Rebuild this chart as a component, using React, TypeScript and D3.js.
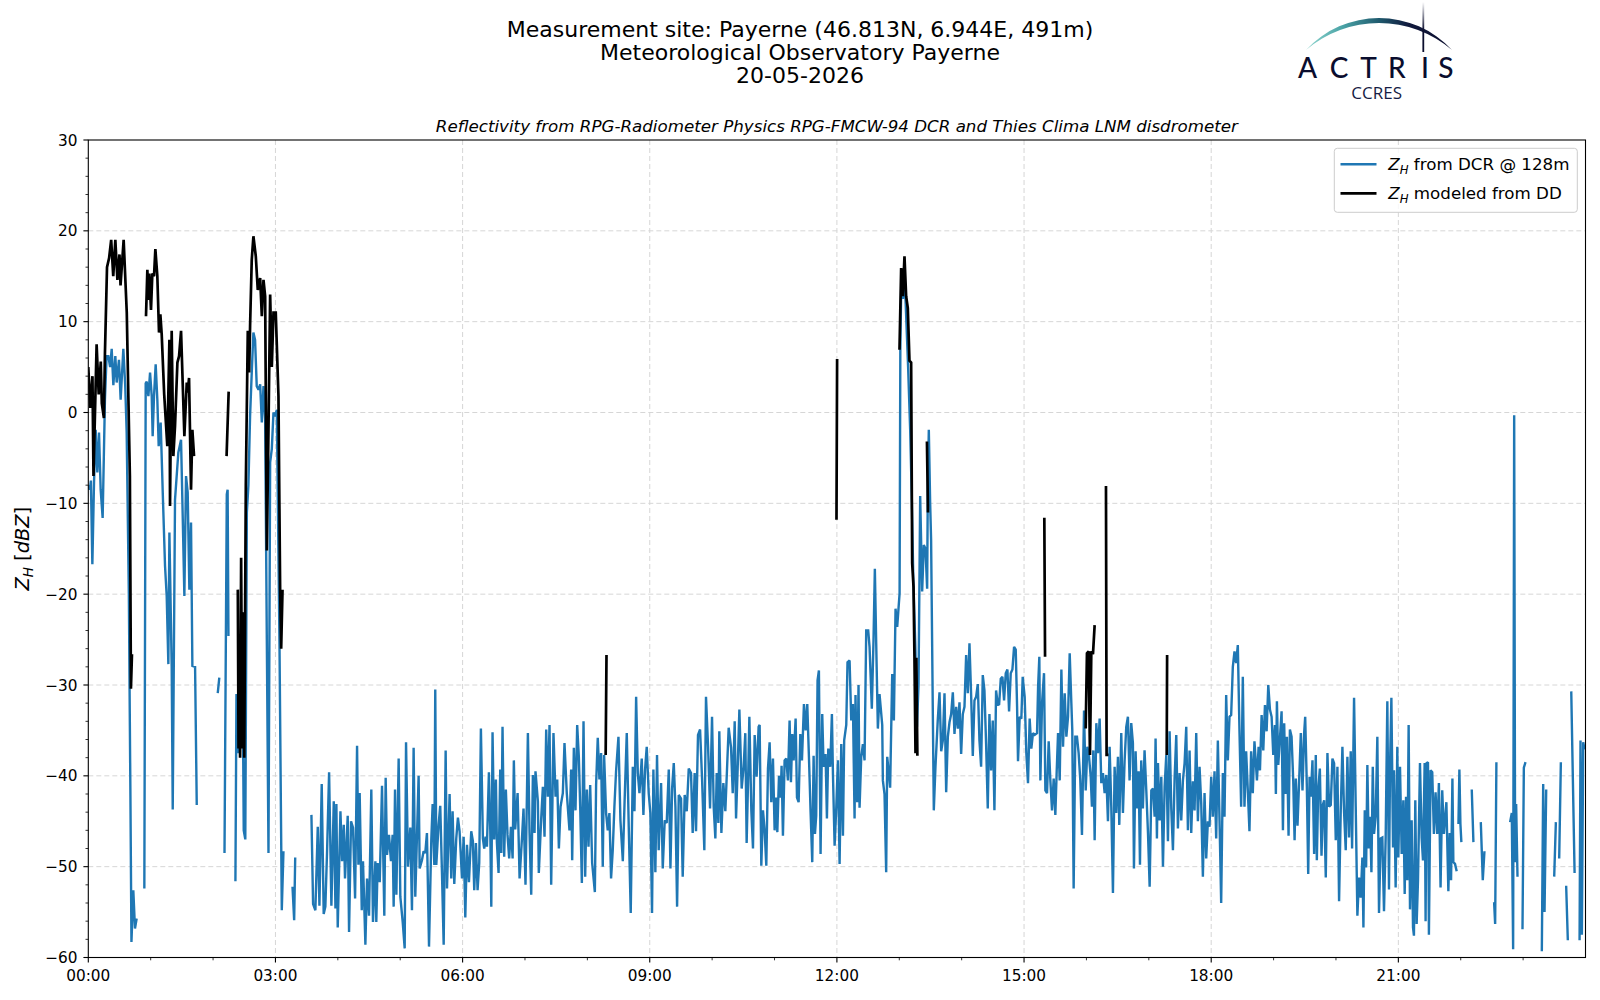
import React from "react";
import * as d3 from "d3";

type Pt = [number, number | null];

// ---------- axis / tick data ----------
const xMajorMinutes = [0, 180, 360, 540, 720, 900, 1080, 1260];
const xTickLabels = ["00:00", "03:00", "06:00", "09:00", "12:00", "15:00", "18:00", "21:00"];
const yMajorTicks = [-60, -50, -40, -30, -20, -10, 0, 10, 20, 30];

const titleLines = [
  "Measurement site: Payerne (46.813N, 6.944E, 491m)",
  "Meteorological Observatory Payerne",
  "20-05-2026",
];
const subTitle = "Reflectivity from RPG-Radiometer Physics RPG-FMCW-94 DCR and Thies Clima LNM disdrometer";
const legendLabels = [" from DCR @ 128m", " modeled from DD"];

// ---------- Z_H from DCR (minutes since 00:00, dBZ) ----------
const dcrEarlyRain: Pt[] = [
  [0, -8], [1.5, -8.5], [2.5, -7.5], [3.9, -16.7], [5.5, -7.7], [7.1, -1.9], [8.7, -6.6], [10.3, -2.2], [11.9, -8.5], [13.8, -11.6],
  [16, 1.4], [17.6, 6.2], [19.3, 6.2], [21, 5], [22.5, 7], [24.1, 3], [26, 6.2], [27.3, 3.3], [29.5, 5.8], [31.1, 1.4], [33.7, 7],
  [35.5, 3], [36.9, -2.2], [39, -20], [40.5, -42], [41.5, -58.3], [43.3, -52.6], [44.9, -56.8], [46.5, -55.7], [50, null],
  [53.9, -52.4], [55.2, 3.2], [56.2, 3.4], [57.8, 1.8], [59.4, 4.4], [61, 1.8], [61.9, -2.6], [63.2, 1.8], [64.8, 5.3], [66.4, 1.4],
  [67.7, -3.7], [69.6, -1.1], [71.6, -8.8], [73.8, -16.9], [75.4, -20.2], [77, -27.7], [78, -13.2], [80.2, -27.9], [81.2, -43.7],
  [83.4, -9.6], [86.6, -4.4], [89.2, -3], [90.8, -11.4], [92.4, -20.2], [94, -7], [95.6, -8.8], [97.2, -19.5], [98.8, -12.1],
  [100.1, -27.9], [102.7, -28], [104.3, -43.2], [110, null],
  [124.5, -30.9], [126, -29.2], [128, null],
  [131, -48.5], [133.2, -9], [134, -8.5], [134.8, -24.6], [138, null],
  [141.5, -51.6], [142.5, -31], [144, -37.5], [146, -35], [148, -22], [149.5, -46], [151, -47], [152.5, -11], [154, -8],
  [155.6, -0.4], [157.2, 4.4], [158.8, 8.8], [160.4, 8], [162, 2.9], [163.7, 2.5], [165.3, 3.1], [166.9, -1.1], [168.5, 2.9],
  [170.1, -0.8], [171.7, -25], [173.3, -48.5], [174.9, -5.5], [176.5, -4], [178.1, 0], [179.7, -0.4], [181.3, 0.3],
  [183.9, -25.7], [186.1, -54.8], [187.7, -48.3], [190, null],
  [196.4, -52.2], [198, -55.9], [199, -49], [205, null],
];

const dcrMorning: Pt[] = [
  [214.6, -44.3], [216.2, -54.1], [218.4, -54.8], [220.7, -45.6], [222.3, -54.3], [224.5, -40.9], [226.4, -55.2], [228, -54.4],
  [229.6, -48.5], [231.6, -39.6], [233.8, -54.3], [236.1, -42.8], [237.7, -54.6], [238.6, -43.1], [239.9, -56.7], [242.5, -43.9],
  [244.1, -49.4], [245.7, -45.4], [246.9, -51.3], [249.5, -44.4], [250.8, -57.2], [252.7, -45], [254.6, -45.7], [256.6, -53.5],
  [258.5, -36.7], [259.8, -49.8], [261, -41.9], [263, -54.8], [264.2, -49.4], [266.5, -58.6], [268.1, -51.3], [270, -55.4],
  [272.2, -41.5], [273.8, -56.1], [276.1, -49.4], [277, -56.1], [278.3, -49.6], [280.3, -51.7], [282.5, -41.1], [284.7, -55.4],
  [286, -40.2], [287.3, -48.7], [289.2, -46.5], [291.1, -49.4], [292.7, -46.5], [293.7, -54.4], [295, -41.5], [296.3, -53.1],
  [298.5, -38.1], [300.1, -53.3], [302.4, -56.1], [304.3, -59], [305.6, -36.3], [307.5, -50], [309.7, -45.7], [311.3, -54.8],
  [312.9, -36.9], [314.5, -53.3], [316.1, -46.7], [317.7, -40], [318.7, -50.2], [320.9, -49.3], [322.5, -48.3], [324.1, -48.5],
  [325.7, -46.3], [327.7, -58.8], [329.9, -47], [331.2, -43.1], [332.8, -49.8], [333.7, -30.5], [334.7, -49.8], [336.9, -45.4],
  [338.5, -43.3], [340.2, -50.9], [341.8, -58.6], [343.7, -37.2], [345, -52.4], [347.5, -42], [349.1, -51.3], [350.4, -43.9],
  [352, -51.9], [353.9, -46.9], [355.5, -44.6], [357.1, -46.1], [359.4, -51.3], [361, -46.7], [362.6, -55.6], [364.2, -47.6],
  [366.1, -51.7], [368.3, -46.1], [369.9, -47.2], [371.2, -52.6], [372.8, -47.4], [374.4, -52.6], [376, -49.6], [377.6, -34.8],
  [379.5, -46.9], [380.8, -48], [382.1, -46.7], [383.4, -47.8], [385.3, -39.6], [386.6, -45.9], [387.6, -54.4], [388.8, -35.2],
  [390.4, -47], [392, -40.4], [393, -47.4], [394.6, -50.7], [396.2, -39.3], [397.2, -48.5], [398.4, -34.6], [400, -48.9],
  [401.6, -41.5], [403.2, -46.5], [404.8, -49.1], [406.5, -45.6], [408.1, -49.1], [409.3, -38.3], [410.6, -45.9], [412.9, -41.9],
  [414.8, -51.3],
  [417.3, -46.5], [418.6, -43.6], [420.5, -52], [422.8, -35.3], [424.4, -46.3], [426, -53.1], [427.6, -39.9], [429.2, -46.3],
  [430.1, -39.5], [432.4, -42.8], [433.3, -50.7], [435.6, -44.7], [437.2, -41.2], [438.8, -46.7], [440.4, -34.9], [442, -42.3],
  [443.6, -34.4], [445.2, -52], [447.4, -35.3], [449.4, -42.3], [451, -40.4], [452.6, -48], [454.2, -43.4], [456.4, -41.9],
  [458, -36.4], [460.2, -41.9], [462.8, -46], [464.4, -39.3], [465.4, -49.3], [467, -36.9], [468.6, -43.8], [470.2, -34.4],
  [471.8, -37.9], [473.1, -43.4], [474.7, -51.8], [476.3, -34], [477.9, -51.1], [479.5, -41.5], [481.1, -47.8], [482.7, -41],
  [484.6, -49.6], [487.2, -52.8], [488.4, -41], [490, -35.8], [491.6, -40.4], [493.2, -37.5], [494.8, -50], [496.1, -37.7],
  [498, -44.1], [499.6, -46], [501.2, -44.1], [502.8, -51.3], [504.4, -48.2], [506, -43.4], [507.6, -39.5], [509.9, -35.7],
  [511.8, -44.9], [514.1, -49.4], [515.7, -43.2], [517.9, -35.3], [519.8, -45.6], [521.7, -55.1], [523.7, -39], [525.3, -43.9],
  [526.9, -31.3], [528.5, -39.7], [530.1, -41.9], [532.3, -38.1], [533.9, -44.3], [535.5, -39.3], [537.1, -36.8], [539, -41.9],
];

const dcrLateMorning: Pt[] = [
  [540.6, -44.1], [542.2, -55.1], [543.5, -39.3], [545.4, -50.6], [547, -37.7], [548.6, -48.2], [550.9, -40.8], [552.5, -50.2],
  [554.4, -44.9], [556.3, -45.2], [558.3, -39.3], [559.9, -50.2], [561.5, -41.4], [563.1, -38.6], [564.7, -43.4], [566.3, -54.4],
  [567.9, -42.1], [570.1, -42.5], [571.7, -51.1], [573.6, -42.1], [575.6, -43.9], [577.5, -39.2], [579.7, -39.7], [581.3, -46.3],
  [583.2, -39.7], [584.5, -46.1], [586.4, -35.5], [588.4, -34.9], [590.3, -40.3], [592.5, -48.2], [594.1, -31.3], [596.1, -36.8],
  [598, -43.6], [599.9, -33.5], [601.5, -43.4], [603.1, -46.9], [604.4, -39.7], [606, -45.2], [606.9, -35.1], [608.9, -46.3],
  [610.8, -40.8], [612.7, -43.9], [614.3, -39.3], [615.9, -34.7], [618.2, -36.9], [619.8, -41.9], [621.7, -34], [623, -44.7],
  [624.6, -39], [626.2, -32.7], [628.4, -41.4], [630.3, -39], [631.9, -35.3], [633.2, -47.4], [634.8, -39.3], [635.8, -33.5],
  [637.7, -43.8], [639.3, -48], [640.9, -35.5], [642.8, -40.1], [644.7, -34.6],
  [645.7, -34.4], [647.3, -49.9], [648.9, -43.8], [650.5, -46], [652.1, -49.9], [653.7, -39.2], [655.3, -36.3], [656.9, -42.9],
  [658.5, -38.1], [660.1, -46], [661.7, -42.4], [662.7, -46.2], [664.3, -40], [665.9, -42.4], [666.8, -38.9], [668.1, -46.6],
  [669.7, -38.3], [671.3, -38.1], [672.9, -40.5], [674.5, -33.9], [675.8, -40.7], [677.1, -35.4], [678.4, -38.3], [680.3, -33.7],
  [681.6, -42.4], [683.2, -42.9], [684.8, -35.4], [686.4, -38.3], [688.3, -32.1], [689.9, -35], [691.5, -32.1], [693.1, -37.9],
  [694.7, -44], [696.3, -49.5], [697.6, -37.8], [698.9, -46.4], [700.1, -44.4], [701.4, -29.5], [702.7, -28.4], [704.3, -48.6],
  [705.9, -33.2], [707.2, -39], [709.1, -37.6], [710.4, -44.7], [711.7, -37], [713.6, -39], [715.2, -33.2], [716.2, -39.8],
  [717.8, -47.7], [719.4, -43.5],
];

const dcrMidday: Pt[] = [
  [721, -38.3], [722.6, -49.7], [724.2, -36.5], [725.8, -46.6], [727, -36.1], [729, -34.4], [730.2, -27.5], [732.2, -27.3],
  [733.8, -33.9], [735.4, -32.1], [737, -44.7], [737.9, -31.1], [739.5, -42.9], [740.8, -30], [741.8, -43.5], [743.4, -37.9],
  [745, -36.5], [746.6, -38.3], [748.2, -24], [750.1, -24], [751.4, -25.8], [753.6, -32.6], [755.2, -25.1], [756.5, -17.2],
  [757.8, -25.4], [759.4, -34.8], [761, -31], [763.6, -34.4], [764.2, -40.5], [765.8, -42], [767.4, -50.6], [768.4, -37.9],
  [770, -39.8], [771.2, -41.3], [773.2, -28.8], [774.8, -33.9], [776.4, -21.6], [778, -23.6], [779.3, -21.5], [780.3, -19.9],
  [781, 6.8], [782, 15], [783.5, 12.5], [785, 15.5], [786.5, 11], [788.5, 5], [790.5, -2], [792, -9.2], [793.5, -18.4],
  [795.5, -26], [797, -34.6], [798.5, -30], [800.1, -9.2], [802, -19.7], [803.6, -14.6], [805.2, -15], [806.8, -19.4],
  [807.4, -8.9], [808.4, -1.9], [809.7, -10], [810.6, -14], [813.2, -43.8], [814.8, -39], [817, -33.9], [818.7, -30.8],
  [820.3, -37.3], [821.9, -36.1], [823.5, -30.9], [825.1, -41.8], [826.7, -35.7], [828.3, -34.1], [829.9, -33.2], [831.5, -30.8],
  [833.1, -35.4], [834.7, -32.4], [836.3, -34.8], [837.9, -31.9], [839.5, -37.6], [841.1, -33.2], [842.7, -32.4], [844.3, -26.7],
  [845.9, -30.9], [847.5, -25.4], [849.1, -31.1], [850.7, -37.8], [852.3, -31.7], [853.9, -31.3], [855.5, -29.9], [857.1, -36.1],
  [858.7, -39], [860.3, -28.9], [861.9, -30.6], [863.5, -36.5], [865.1, -43.6], [866.7, -33.2], [868.3, -39.4], [869.9, -33.9],
  [871.5, -43.8], [873.1, -30.6], [874.7, -32.1],
];

const dcrAfternoon: Pt[] = [
  [876, -32.2], [877.6, -29.3], [879.2, -29.1], [880.8, -31.7], [882.4, -28.7], [884, -28.3], [885.6, -32.9], [887.2, -28.7],
  [888.8, -28.3], [890.4, -25.8], [892, -26.1], [893.3, -32.4], [894.2, -38.4], [895.8, -33.5], [897.4, -33.7], [898.7, -29.1],
  [900.6, -31.3], [902.2, -37.5], [903.8, -40.8], [905.4, -33.7], [907, -37], [908.6, -35.3], [910.2, -35.5], [912.5, -35.3],
  [913.5, -30.2], [914.7, -26.9], [915.7, -40.5], [917.3, -32], [919.2, -28.7], [920.5, -41.6], [922.1, -41.9], [923.7, -36.2],
  [925.3, -40.5], [926.9, -43.8], [928.5, -40.3], [930.1, -44.3], [931.4, -39.5], [932.7, -35.3], [934.3, -40.5], [935.9, -28.3],
  [937.5, -36.8], [939.1, -30.9], [940.7, -35.7], [942.3, -33.5], [943.9, -26.5], [945.5, -32], [946.4, -35], [947.7, -52.4],
  [949.3, -35.7], [950.9, -35.7], [952.5, -37.5], [954.1, -40.5], [955.7, -46.5], [957.7, -32.8], [959.3, -41.6], [960.9, -36.8],
  [962.5, -37.9], [964.1, -40.1], [965.3, -43.4], [966.6, -37.2], [967.9, -47.1], [969.5, -34.2], [971.1, -37.5], [972.7, -33.7],
  [974.3, -40.8], [975.9, -39.7], [977.5, -41.9], [979.1, -39.9], [980.7, -45], [982.3, -36.8], [983.9, -43.4], [985.5, -52.9],
  [987.1, -39], [988.7, -44.1], [990.3, -37.9], [991.6, -45.4], [993.5, -35.3], [995.1, -44.1], [996.7, -38.4], [998.3, -34.6],
  [999.9, -33.5], [1001.5, -40.5], [1003.1, -34.2], [1004.7, -36.4], [1005.7, -50.2], [1007.3, -37.3], [1008.9, -43.6],
  [1010.2, -39.5], [1011.5, -49.8], [1012.7, -38.3], [1014.3, -43.6], [1015.9, -37.2], [1017.6, -41.7], [1019.2, -46.3],
  [1020.8, -52.2], [1022.4, -41.6], [1024, -41.4], [1025.6, -44.5], [1026.5, -35.9], [1027.8, -46.9], [1028.8, -38.6],
  [1030.4, -44.9], [1032, -40.1], [1033.6, -50], [1035.2, -41.2], [1036.8, -37.7], [1038.4, -47.2], [1040, -35.1],
  [1041.6, -43.6], [1043.2, -48.2], [1044.8, -40.3], [1046.4, -35.5], [1048, -45.8], [1049.6, -39.7], [1051.2, -44.9],
  [1052.8, -40.5], [1054.4, -38.6], [1056, -34.6], [1057.6, -46], [1059.2, -37.2], [1060.8, -46.3], [1062.4, -40.6],
  [1064, -43.8], [1065.6, -35.3], [1067.2, -45], [1068.8, -39], [1070.4, -43], [1072, -51.1], [1073.6, -41.9], [1075.2, -49.1],
  [1076.8, -45], [1078.4, -45.6],
];

const dcrEvening: Pt[] = [
  [1080, -40.1], [1081.6, -44.5], [1083.2, -39.5], [1084.8, -46.9], [1086.4, -36.1], [1088, -44.9], [1089.6, -54],
  [1091.2, -39.7], [1092.8, -44.5], [1094.4, -31.1], [1096, -38.3], [1097.6, -33.5], [1099.2, -33.3], [1100.8, -28],
  [1102.4, -26.3], [1104, -27.6], [1105.6, -25.6], [1107.2, -35.1], [1108.8, -43.4], [1110.4, -29.1], [1112, -43.4],
  [1113.6, -37.3], [1115.2, -41.6], [1116.8, -46.1], [1118.4, -37.3], [1120, -41.9], [1121.6, -36.2],
  [1124, -40.5], [1125.6, -36.8], [1126.9, -39.4], [1128.5, -33.3], [1130.1, -37.2], [1131.7, -32.2], [1133.3, -35.1],
  [1134.9, -30], [1136.5, -32.7], [1138.1, -33.5], [1139.7, -37.7], [1141.3, -34.4], [1142.2, -42], [1143.2, -31.8],
  [1144.5, -38.8], [1146.1, -35.9], [1147.7, -32.9], [1149, -46], [1150.2, -34.2], [1151.5, -42], [1152.8, -35.7],
  [1154.4, -46.6], [1155.7, -34.9], [1157.3, -35.7], [1158.9, -40.5], [1160.2, -47.1], [1161.4, -40.3], [1163, -45.5],
  [1164.6, -40.5], [1166.2, -35.3], [1167.8, -41.6], [1169.4, -35.3], [1170.4, -33.5], [1172, -41.2], [1173.3, -50.8],
  [1174.6, -40.1], [1175.8, -42.3], [1177.4, -38.3], [1179, -48.6], [1180.6, -37.7], [1181.6, -49.3], [1182.9, -41.6],
  [1184.5, -39.2], [1186.1, -48.8], [1187.4, -43.2], [1188.6, -42.7], [1190.2, -51.2], [1191.8, -37.5], [1193.4, -43.4],
  [1195, -43.2], [1196.6, -38.1], [1198.2, -38.6], [1199.8, -47.1], [1201.4, -39], [1203, -53.8], [1204.6, -43.8],
  [1206.2, -36.8], [1207.8, -44], [1209.4, -48.2], [1211, -37.9], [1212.6, -46.8], [1214.2, -37.3], [1215.5, -48],
  [1217.4, -31.4], [1219, -43.4], [1220.6, -55.4], [1222.2, -51.2], [1223.8, -53.4], [1225.4, -49], [1226.4, -56.7],
  [1227.7, -43.8], [1229, -50.1], [1230.2, -38.8], [1231.5, -48], [1232.8, -44.5], [1234.1, -50.6], [1235.4, -39],
  [1236.6, -46.4], [1238.2, -44.5], [1239.8, -35.7], [1241.4, -55.1], [1243, -46.9], [1244.6, -46.8], [1246.2, -54.9],
  [1247.8, -46.8], [1249.4, -31.8], [1251, -52.5], [1252, -39], [1253.3, -31.4], [1254.9, -47.9], [1255.8, -39.4],
  [1257.4, -52.3], [1259, -36.8],
];

const dcrNight: Pt[] = [
  [1260, -49], [1261.6, -39], [1263.2, -48.6], [1264.8, -42.7], [1266.1, -53], [1267.4, -42.3], [1268.6, -51.5],
  [1269.9, -34.4], [1271.2, -54.7], [1272.8, -44.9], [1274.1, -56.7], [1275, -57.6], [1276.3, -42.7], [1277.6, -56.3],
  [1278.9, -51.5], [1280.8, -38.6], [1282.4, -46.8], [1283.7, -49.3], [1285.3, -38.6], [1286.2, -56], [1287.2, -38.6],
  [1288.5, -38.5], [1289.4, -57.5], [1291, -39.4], [1292.6, -39.6], [1294.2, -46.4], [1295.8, -41.8], [1297.4, -46.4],
  [1299, -40.8], [1300.6, -52.3], [1302.2, -41.6], [1303.8, -46.4], [1306.2, -42.9], [1308.1, -52.7], [1309.4, -46.3],
  [1310.7, -51.5], [1312, -40.3], [1312.9, -49.5], [1314.5, -49.7], [1316.1, -50.5], [1317, null],
  [1317.8, -45.3], [1318.7, -39.3], [1319.7, -45.3], [1320.6, -47.3], [1322, null],
  [1330.6, -41.5], [1332.2, -47.3], [1334, null],
  [1339.3, -45.1], [1341.2, -51.5], [1342.8, -48.3], [1345, null],
  [1352.1, -53.9], [1353.1, -56.3], [1354.3, -38.5], [1356, null],
  [1367.5, -45.1], [1369.1, -44.1], [1370.4, -59.1], [1371.4, -0.3], [1372.3, -49.5], [1373.3, -43.1], [1374.6, -51.1], [1376, null],
  [1379.4, -56.9], [1380.7, -39.1], [1382.3, -38.5], [1384, null],
  [1398, -59.3], [1399.3, -40.9], [1400.6, -55], [1402.2, -41.5], [1404, null],
  [1409.9, -51.1], [1411.5, -45.1], [1413, null],
  [1414.7, -49.1], [1416.3, -38.5], [1418, null],
  [1421.4, -52.1], [1423, -58.1], [1424.5, null],
  [1426.3, -30.7], [1429.5, -50.7], [1431, null],
  [1434.3, -58.1], [1435.2, -36.1], [1436.5, -57.5], [1437.8, -36.3], [1439.1, -37.1],
];

// ---------- Z_H modeled from disdrometer ----------
const ddMorningRain: Pt[] = [
  [0, 5], [2, 0.5], [4, 4], [5, -7], [8, 7.5], [10, 2], [12, 5.6], [13, 1], [15, -0.6], [16, 6.5], [18, 16], [20, 17], [22, 19],
  [24, 15], [26, 19], [28, 14.6], [30, 17.4], [31, 14], [34, 19], [37, 11], [40, -7], [41, -30.4], [42, -26.6], [45, null],
  [55.5, 10.6], [56.8, 15.7], [57.8, 12.4], [58.7, 15.3], [60.3, 11.3], [61.6, 15.3], [63.2, 15], [64.5, 18], [66.4, 15],
  [68, 8.8], [69.3, 10.8], [70.6, 8.6], [73, 2], [76, -3.7], [78, 8], [78.6, -10.3], [80.2, 9], [81.8, -4.8], [83.4, -1.5],
  [85.7, 5.5], [87.3, 6.2], [89.2, 9], [92.4, -2.6], [94.7, 3.3], [95.6, 2.2], [96.9, 3.8], [98.8, -8.5], [100.1, -1.9],
  [101.7, -4.8], [105, null],
  [133, -4.8], [135, 2.3], [137, null],
  [143.8, -19.5], [144.5, -37], [145.2, -31], [146, -38], [147, -16], [148, -37], [149, -22], [150, -38], [151.5, -8],
  [153.4, 9], [154.7, 4.4], [155.6, 9.5], [157.2, 16.8], [158.8, 19.4], [161.1, 17.2], [163, 13.5], [165.3, 14.8],
  [166.9, 10.6], [168.5, 14.6], [170.1, 12.8], [171.7, -15.2], [173.3, -1.9], [174.9, 13], [176.5, 5], [178.1, 11],
  [180.3, 11], [182.9, 1.8], [184.5, -19.5], [185.5, -26], [186.8, -19.5], [190, null],
];

const ddLaterEvents: Pt[] = [
  [497.6, -37.7], [498.4, -26.7], [500, null],
  [719.6, -11.8], [720.2, 5.9], [722, null],
  [780.2, 6.9], [781.8, 15.9], [783.4, 12.8], [785, 17.2], [786.6, 12.8], [788.2, 11.5], [789.8, 5.7], [791.4, 5.5],
  [792.4, -16.6], [793.7, -19.2], [794.6, -26.9], [795.6, -37.5], [796.4, -27], [797.4, -37.8], [799, null],
  [806.6, -3.2], [807.6, -11], [809, null],
  [919.5, -11.6], [920.2, -26.9], [922, null],
  [959.3, -34.8], [960.5, -26.5], [962.1, -26.3], [963.4, -37.7], [964.7, -26.3], [966.3, -26.6], [967.9, -23.4], [970, null],
  [978.8, -8.1], [979.4, -37.7], [981.2, -37.7], [983, null],
  [1037.2, -37.7], [1037.6, -26.7],
];

const dcrSeries: Pt[] = [...dcrEarlyRain, ...dcrMorning, ...dcrLateMorning, ...dcrMidday, ...dcrAfternoon, ...dcrEvening, ...dcrNight];
const ddSeries: Pt[] = [...ddMorningRain, ...ddLaterEvents];

// ---------- layout ----------
const W = 1600;
const H = 1000;
const X0 = 88.3;
const X1 = 1585.5;
const Y0 = 140;
const Y1 = 957.5;
const BLUE = "#1f77b4";
const FONT = "'DejaVu Sans', sans-serif";

export default function App() {
  const x = d3.scaleLinear().domain([0, 1440]).range([X0, X1]);
  const y = d3.scaleLinear().domain([-60, 30]).range([Y1, Y0]);
  const line = d3
    .line<Pt>()
    .defined((d) => d[1] !== null)
    .x((d) => x(d[0]))
    .y((d) => y(d[1] as number));

  const xMinor = d3.range(0, 1441, 60).filter((m) => m % 180 !== 0);
  const yMinor = d3.range(-60, 31, 2).filter((v) => v % 10 !== 0);
  const fmtY = (v: number) => (v < 0 ? "\u2212" + Math.abs(v) : String(v));

  const zh = (size: number) => [
    <tspan key="z" fontStyle="italic">Z</tspan>,
    <tspan key="h" fontStyle="italic" fontSize={size * 0.7} dy={size * 0.22}>H</tspan>,
  ];

  return (
    <svg
      width={W}
      height={H}
      viewBox={`0 0 ${W} ${H}`}
      style={{ position: "absolute", left: 0, top: 0, background: "#fff" }}
      fontFamily={FONT}
    >
      <defs>
        <clipPath id="plotClip">
          <rect x={X0} y={Y0} width={X1 - X0} height={Y1 - Y0} />
        </clipPath>
        <linearGradient id="arcGrad" gradientUnits="userSpaceOnUse" x1={1306} y1={0} x2={1452} y2={0}>
          <stop offset="0" stopColor="#8fd6cf" />
          <stop offset="0.25" stopColor="#4aa3a6" />
          <stop offset="0.5" stopColor="#1f5a6e" />
          <stop offset="0.7" stopColor="#111a3d" />
          <stop offset="1" stopColor="#0b0e2e" />
        </linearGradient>
        <linearGradient id="barGrad" gradientUnits="userSpaceOnUse" x1={0} y1={2} x2={0} y2={30}>
          <stop offset="0" stopColor="#ffffff" />
          <stop offset="1" stopColor="#0b0e2e" />
        </linearGradient>
      </defs>
      <rect x={0} y={0} width={W} height={H} fill="#fff" />

      {/* titles */}
      {titleLines.map((t, i) => (
        <text key={t} x={800} y={37 + i * 23} fontSize={22} textAnchor="middle" fill="#000">
          {t}
        </text>
      ))}
      <text x={(X0 + X1) / 2} y={132} fontSize={16.7} fontStyle="italic" textAnchor="middle" fill="#000">
        {subTitle}
      </text>

      {/* logo */}
      <path
        d="M1306,50 A99.3,99.3 0 0 1 1452,50 A112,112 0 0 0 1306,50 Z"
        fill="url(#arcGrad)"
      />
      <line x1={1423.3} y1={2} x2={1423.3} y2={52} stroke="url(#barGrad)" strokeWidth={1.8} />
      {["A", "C", "T", "R", "I", "S"].map((c, i) => (
        <text
          key={c + i}
          x={[1307.5, 1339, 1368.5, 1396.8, 1425, 1445.8][i]}
          y={77.5}
          fontSize={28}
          fontWeight={500}
          fontFamily="Lato, 'Open Sans', sans-serif"
          textAnchor="middle"
          fill="#0a0d2e"
        >
          {c}
        </text>
      ))}
      <text x={1376.7} y={99} fontSize={17} fontFamily="'Open Sans', sans-serif" textAnchor="middle" fill="#161c44">
        CCRES
      </text>

      {/* grid */}
      <g stroke="#d6d6d6" strokeWidth={1} strokeDasharray="5,3">
        {xMajorMinutes.slice(1).map((m) => (
          <line key={"gx" + m} x1={x(m)} x2={x(m)} y1={Y0} y2={Y1} />
        ))}
        {yMajorTicks.slice(1, -1).map((v) => (
          <line key={"gy" + v} x1={X0} x2={X1} y1={y(v)} y2={y(v)} />
        ))}
      </g>

      {/* data */}
      <g clipPath="url(#plotClip)" fill="none" strokeLinejoin="miter" strokeMiterlimit={2}>
        <path d={line(dcrSeries) || ""} stroke={BLUE} strokeWidth={2.4} />
        <path d={line(ddSeries) || ""} stroke="#000" strokeWidth={2.7} />
      </g>

      {/* spines */}
      <rect x={X0} y={Y0} width={X1 - X0} height={Y1 - Y0} fill="none" stroke="#000" strokeWidth={1.1} />

      {/* ticks */}
      <g stroke="#000" strokeWidth={1.1}>
        {xMajorMinutes.map((m) => (
          <line key={"xt" + m} x1={x(m)} x2={x(m)} y1={Y1} y2={Y1 + 4.9} />
        ))}
        {xMinor.map((m) => (
          <line key={"xm" + m} x1={x(m)} x2={x(m)} y1={Y1} y2={Y1 + 2.8} strokeWidth={0.8} />
        ))}
        {yMajorTicks.map((v) => (
          <line key={"yt" + v} x1={X0 - 4.9} x2={X0} y1={y(v)} y2={y(v)} />
        ))}
        {yMinor.map((v) => (
          <line key={"ym" + v} x1={X0 - 2.8} x2={X0} y1={y(v)} y2={y(v)} strokeWidth={0.8} />
        ))}
      </g>
      {xMajorMinutes.map((m, i) => (
        <text key={"xl" + m} x={x(m)} y={980.5} fontSize={15.3} textAnchor="middle" fill="#000">
          {xTickLabels[i]}
        </text>
      ))}
      {yMajorTicks.map((v) => (
        <text key={"yl" + v} x={77.5} y={y(v) + 5.5} fontSize={15.3} textAnchor="end" fill="#000">
          {fmtY(v)}
        </text>
      ))}

      {/* y label */}
      <text transform={`translate(29,${(Y0 + Y1) / 2}) rotate(-90)`} fontSize={19.4} textAnchor="middle" fill="#000">
        {zh(19.4)}
        <tspan dy={-19.4 * 0.22}> [</tspan>
        <tspan fontStyle="italic">dBZ</tspan>
        <tspan>]</tspan>
      </text>

      {/* legend */}
      <rect x={1334.3} y={148.3} width={243} height={64} rx={3} ry={3} fill="#fff" fillOpacity={0.8} stroke="#cccccc" strokeWidth={1} />
      {[BLUE, "#000"].map((c, i) => (
        <g key={"lg" + i}>
          <line x1={1340.5} x2={1376.5} y1={164.3 + i * 29} y2={164.3 + i * 29} stroke={c} strokeWidth={i === 0 ? 2.4 : 2.7} />
          <text x={1388.3} y={170 + i * 29} fontSize={16.7} fill="#000">
            {zh(16.7)}
            <tspan dy={-16.7 * 0.22}>{legendLabels[i]}</tspan>
          </text>
        </g>
      ))}
    </svg>
  );
}
